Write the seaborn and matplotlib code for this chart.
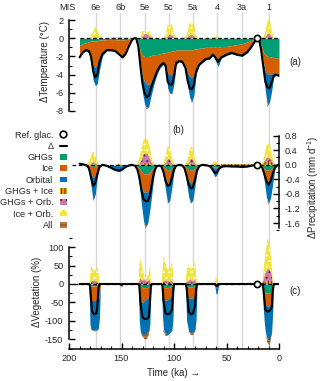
import numpy as np
import matplotlib
matplotlib.use("Agg")
import matplotlib.pyplot as plt
import seaborn as sns
from matplotlib.lines import Line2D
from matplotlib.patches import Patch
from matplotlib.ticker import MultipleLocator, FormatStrFormatter
from matplotlib.transforms import blended_transform_factory

# ---------------------------------------------------------------- data
mis_labels = ["6e", "6b", "5e", "5c", "5a", "4", "3a", "1"]
mis_ages = [174.5, 151, 128, 105, 82, 59, 35, 10]
ref_glacial_age = 21.0
series_names = ["GHGs", "Ice", "Orbital", "GHGs + Ice", "GHGs + Orb.", "Ice + Orb.", "All"]

# panel (a): temperature (deg C)
time_a = [190, 187, 184, 181, 179, 177, 175, 173, 171, 168, 164, 160, 156, 152, 149,
          146, 143, 140, 138, 136, 134, 132, 130, 128, 126, 124, 122, 119, 116, 113,
          110, 108, 106, 104, 102, 100, 98, 95, 92, 89, 87, 85, 83, 81, 79,
          76, 73, 70, 66, 63, 60, 58, 55, 50, 45, 40, 35, 30, 26, 23,
          21, 19, 17, 15, 13, 11, 9, 7, 5, 3, 0]
temp_delta = [-2.1, -1.6, -1.3, -1.4, -2.0, -3.6, -4.3, -4.0, -2.6, -1.7, -1.3, -1.3, -1.4, -1.8, -2.1,
              -1.7, -0.9, -0.2, 0.0, 0.0, -0.9, -3.1, -5.0, -6.0, -6.5, -6.3, -5.5, -4.5, -3.6, -3.0,
              -2.7, -3.0, -4.8, -5.1, -5.1, -4.2, -2.7, -2.5, -2.6, -3.3, -4.7, -5.5, -5.6, -5.1, -3.7,
              -2.9, -2.6, -2.3, -2.2, -1.8, -2.2, -2.6, -2.1, -1.8, -1.6, -1.8, -1.9, -1.5, -0.9, -0.35,
              0.0, -0.1, -1.3, -3.1, -4.8, -5.4, -5.5, -4.8, -4.1, -4.0, -4.1]
temp_ghgs = [-0.8, -0.6, -0.5, -0.4, -0.3, -0.3, -0.3, -0.3, -0.2, -0.2, -0.15, -0.15, -0.15, -0.2, -0.2,
             -0.15, -0.1, -0.05, 0, 0, -0.5, -1.5, -1.9, -2.0, -2.0, -2.0, -1.9, -1.8, -1.8, -1.7,
             -1.6, -1.6, -1.5, -1.5, -1.4, -1.4, -1.3, -1.3, -1.3, -1.3, -1.3, -1.3, -1.3, -1.2, -1.2,
             -1.1, -1.1, -1.0, -1.0, -0.9, -1.0, -1.0, -0.9, -0.9, -0.8, -0.7, -0.6, -0.4, -0.2, -0.1,
             0, -0.1, -0.7, -1.5, -1.8, -2.0, -2.0, -2.1, -2.1, -2.2, -2.2]
temp_ice = [-1.3, -0.9, -0.8, -1.0, -1.6, -2.7, -2.9, -2.7, -1.9, -1.4, -1.15, -1.15, -1.25, -1.6, -1.9,
            -1.55, -0.8, -0.15, 0, 0, -0.5, -1.3, -2.3, -2.8, -3.1, -3.1, -2.9, -2.4, -1.7, -1.3,
            -1.1, -1.3, -2.3, -2.5, -2.6, -2.2, -1.3, -1.1, -1.2, -1.7, -2.5, -2.9, -3.0, -2.8, -2.2,
            -1.7, -1.4, -1.2, -1.1, -0.8, -1.0, -1.3, -1.1, -0.8, -0.7, -1.0, -1.2, -1.0, -0.65, -0.2,
            0, 0, -0.5, -1.1, -1.8, -1.9, -2.0, -1.8, -1.8, -1.7, -1.8]
temp_orb = [-0.1, -0.1, -0.1, -0.2, -0.9, -1.6, -2.0, -2.0, -1.4, -0.3, -0.1, -0.1, -0.1, -0.1, -0.1,
            -0.1, -0.05, 0, 0, 0, -0.1, -1.0, -1.8, -2.4, -2.6, -2.4, -1.6, -0.8, -0.4, -0.2,
            -0.2, -0.4, -1.7, -2.0, -2.1, -1.4, -0.3, -0.2, -0.2, -0.6, -1.5, -2.3, -2.7, -2.2, -0.6,
            -0.2, -0.2, -0.2, -0.2, -0.2, -0.6, -0.8, -0.2, -0.2, -0.2, -0.2, -0.2, -0.2, -0.1, -0.05,
            0, -0.05, -0.3, -0.9, -2.2, -3.5, -3.0, -1.9, -0.4, -0.2, -0.2]
temp_ghgs_ice = {128: 0.05, 126: 0.05, 104: 0.05, 83: 0.05, 11: 0.05, 9: 0.05}
temp_ghgs_orb = {175: 0.1, 130: 0.2, 128: 0.4, 126: 0.45, 124: 0.3, 122: 0.1, 106: 0.2, 104: 0.4,
                 102: 0.3, 100: 0.1, 87: 0.1, 85: 0.3, 83: 0.4, 81: 0.2, 13: 0.1, 11: 0.4, 9: 0.5, 7: 0.2}
temp_ice_orb = {179: 0.2, 177: 0.7, 175: 1.2, 173: 0.9, 171: 0.3, 160: 0.1, 156: 0.15, 152: 0.15,
                149: 0.1, 132: 0.1, 130: 0.6, 128: 0.3, 126: 0.1, 124: 0.5, 122: 0.3, 108: 0.3,
                106: 1.4, 104: 0.7, 102: 1.4, 100: 0.4, 89: 0.2, 87: 0.6, 85: 1.5, 83: 0.9, 81: 1.6,
                79: 0.3, 60: 0.25, 58: 0.15, 15: 0.1, 13: 0.6, 11: 1.5, 9: 1.6, 7: 0.8, 5: 0.1}
temp_all = {126: -0.1, 104: -0.1, 83: -0.1, 11: -0.15}

# panel (b): precipitation (mm/d)
time_b = [190, 186, 183, 181, 179, 177, 175, 173, 171, 168, 164, 160, 156, 152, 149, 146, 143, 140,
          137, 135, 133, 131, 129, 127, 125, 123, 121, 119, 117, 114, 112, 110, 108, 106, 104, 102,
          100, 98, 95, 92, 90, 88, 86, 84, 82, 80, 78, 76, 73, 68, 65, 63, 61, 59, 57, 54, 50, 45,
          40, 35, 30, 25, 21, 18, 16, 14, 12, 10, 8, 6, 4, 2, 0]
prec_delta = {190: 0.03, 186: 0.01, 183: -0.02, 181: -0.1, 179: -0.35, 177: -0.58, 175: -0.5,
              173: -0.25, 171: -0.06, 164: -0.03, 160: -0.08, 156: -0.14, 152: -0.16, 149: -0.12,
              146: -0.06, 143: -0.02, 137: -0.03, 135: -0.12, 133: -0.35, 131: -0.7, 129: -0.95,
              127: -1.0, 125: -1.0, 123: -0.85, 121: -0.5, 119: -0.2, 117: -0.05, 114: -0.02,
              112: -0.05, 110: -0.2, 108: -0.45, 106: -0.58, 104: -0.55, 102: -0.35, 100: -0.12,
              98: -0.03, 92: -0.02, 90: -0.1, 88: -0.3, 86: -0.55, 84: -0.65, 82: -0.62, 80: -0.4,
              78: -0.15, 76: -0.04, 68: -0.02, 65: -0.06, 63: -0.15, 61: -0.23, 59: -0.2, 57: -0.1,
              54: -0.05, 50: -0.04, 45: -0.05, 40: -0.05, 35: -0.06, 30: -0.05, 25: -0.02, 18: -0.02,
              16: -0.08, 14: -0.25, 12: -0.45, 10: -0.55, 8: -0.45, 6: -0.25, 4: -0.08, 2: -0.02}
prec_ghgs = {181: -0.01, 179: -0.03, 177: -0.05, 175: -0.04, 173: -0.02, 135: -0.03, 133: -0.1,
             131: -0.18, 129: -0.25, 127: -0.25, 125: -0.25, 123: -0.2, 121: -0.12, 119: -0.05,
             117: -0.01, 112: -0.01, 110: -0.05, 108: -0.1, 106: -0.15, 104: -0.15, 102: -0.1,
             100: -0.04, 90: -0.02, 88: -0.07, 86: -0.13, 84: -0.15, 82: -0.14, 80: -0.08, 78: -0.03,
             63: -0.03, 61: -0.07, 59: -0.06, 57: -0.02, 16: -0.03, 14: -0.1, 12: -0.15, 10: -0.15,
             8: -0.13, 6: -0.08, 4: -0.02}
prec_ice = {181: -0.05, 179: -0.2, 177: -0.3, 175: -0.27, 173: -0.12, 171: -0.02, 160: -0.01,
            156: -0.02, 152: -0.03, 149: -0.02, 135: -0.05, 133: -0.2, 131: -0.4, 129: -0.5,
            127: -0.5, 125: -0.5, 123: -0.45, 121: -0.3, 119: -0.1, 117: -0.02, 112: -0.02,
            110: -0.12, 108: -0.25, 106: -0.35, 104: -0.33, 102: -0.22, 100: -0.07, 90: -0.05,
            88: -0.18, 86: -0.3, 84: -0.35, 82: -0.33, 80: -0.2, 78: -0.07, 63: -0.02, 61: -0.04,
            59: -0.03, 16: -0.03, 14: -0.15, 12: -0.28, 10: -0.3, 8: -0.28, 6: -0.15, 4: -0.03}
prec_orb = {186: -0.01, 183: -0.03, 181: -0.1, 179: -0.35, 177: -0.62, 175: -0.5, 173: -0.2,
            171: -0.05, 168: -0.01, 164: -0.04, 160: -0.1, 156: -0.14, 152: -0.16, 149: -0.12,
            146: -0.06, 143: -0.02, 137: -0.03, 135: -0.1, 133: -0.25, 131: -0.5, 129: -0.8,
            127: -0.95, 125: -0.85, 123: -0.6, 121: -0.35, 119: -0.15, 117: -0.04, 114: -0.02,
            112: -0.04, 110: -0.15, 108: -0.35, 106: -0.55, 104: -0.5, 102: -0.3, 100: -0.1,
            98: -0.02, 92: -0.02, 90: -0.08, 88: -0.25, 86: -0.45, 84: -0.55, 82: -0.5, 80: -0.3,
            78: -0.1, 76: -0.03, 68: -0.02, 65: -0.06, 63: -0.15, 61: -0.22, 59: -0.18, 57: -0.1,
            54: -0.05, 50: -0.04, 45: -0.05, 40: -0.05, 35: -0.06, 30: -0.05, 25: -0.02, 18: -0.02,
            16: -0.06, 14: -0.2, 12: -0.45, 10: -0.6, 8: -0.5, 6: -0.3, 4: -0.08, 2: -0.02}
prec_ghgs_ice = {179: 0.01, 177: 0.02, 175: 0.01, 152: 0.02, 129: 0.04, 127: 0.05, 125: 0.05,
                 123: 0.03, 106: 0.04, 104: 0.03, 84: 0.04, 82: 0.03, 61: 0.03, 54: 0.02, 50: 0.02,
                 45: 0.02, 40: 0.02, 35: 0.02, 30: 0.02, 25: 0.01, 16: 0.02, 14: 0.06, 12: 0.1,
                 10: 0.1, 8: 0.09, 6: 0.05, 4: 0.01}
prec_ghgs_orb = {179: 0.02, 177: 0.06, 175: 0.04, 133: 0.03, 131: 0.12, 129: 0.25, 127: 0.27,
                 125: 0.25, 123: 0.15, 121: 0.05, 108: 0.05, 106: 0.12, 104: 0.12, 102: 0.05,
                 86: 0.05, 84: 0.13, 82: 0.12, 80: 0.04, 14: 0.03, 12: 0.08, 10: 0.1, 8: 0.08, 6: 0.03}
prec_ice_orb = {183: 0.02, 181: 0.08, 179: 0.2, 177: 0.3, 175: 0.2, 173: 0.06, 152: 0.02, 135: 0.03,
                133: 0.15, 131: 0.3, 129: 0.4, 127: 0.43, 125: 0.4, 123: 0.3, 121: 0.12, 119: 0.03,
                110: 0.05, 108: 0.2, 106: 0.35, 104: 0.33, 102: 0.15, 100: 0.03, 88: 0.08, 86: 0.25,
                84: 0.33, 82: 0.3, 80: 0.12, 78: 0.02, 63: 0.03, 61: 0.08, 59: 0.05, 16: 0.03,
                14: 0.15, 12: 0.35, 10: 0.4, 8: 0.3, 6: 0.1}
prec_all = {177: -0.03, 127: -0.05, 125: -0.03, 106: -0.03, 84: -0.03, 10: -0.05}

# panel (c): vegetation (%)
time_c = [190, 182, 181, 180, 179, 178, 176, 174, 173, 172, 171, 170, 152, 151, 150, 149, 148,
          135, 134, 133, 132, 130, 128, 126, 124, 123, 122, 121, 113, 112, 111, 110, 108, 106,
          104, 102, 101, 100, 99, 90, 89, 88, 86, 84, 82, 80, 79, 78, 77, 63, 62, 61, 60, 59,
          58, 57, 56, 17, 16, 15, 14, 13, 11, 9, 7, 6, 5, 4, 0]
veg_delta = {180: -5, 179: -40, 178: -75, 176: -82, 174: -80, 173: -60, 172: -12, 150: -3,
             133: -5, 132: -50, 130: -90, 128: -95, 126: -95, 124: -90, 123: -55, 122: -5,
             111: -5, 110: -45, 108: -80, 106: -82, 104: -80, 102: -70, 101: -25,
             88: -10, 86: -75, 84: -82, 82: -80, 80: -60, 79: -15, 60: -5, 59: -6,
             15: -10, 14: -40, 13: -70, 11: -75, 9: -73, 7: -65, 6: -20}
veg_ghgs = {180: -3, 179: -5, 178: -5, 176: -5, 174: -5, 173: -5, 172: -3, 171: -2, 150: -1,
            133: -3, 132: -5, 130: -10, 128: -10, 126: -10, 124: -8, 123: -5,
            111: -5, 110: -8, 108: -10, 106: -10, 104: -8, 102: -5, 101: -3,
            88: -5, 86: -8, 84: -8, 82: -8, 80: -5, 79: -3, 60: -3, 59: -3,
            15: -10, 14: -20, 13: -25, 11: -25, 9: -25, 7: -20, 6: -10}
veg_ice = {180: -35, 179: -40, 178: -40, 176: -40, 174: -40, 173: -40, 172: -38, 171: -30, 150: -2,
           133: -30, 132: -40, 130: -40, 128: -35, 126: -30, 124: -28, 123: -25,
           111: -20, 110: -30, 108: -35, 106: -32, 104: -30, 102: -28, 101: -20,
           88: -25, 86: -30, 84: -30, 82: -30, 80: -28, 79: -20, 61: -2, 60: -8, 59: -6, 58: -2,
           15: -15, 14: -25, 13: -30, 11: -35, 9: -35, 7: -30, 6: -15}
veg_orb = {180: -70, 179: -78, 178: -80, 176: -80, 174: -80, 173: -80, 172: -78, 171: -60, 150: -6,
           133: -70, 132: -85, 130: -88, 128: -92, 126: -95, 124: -92, 123: -80,
           111: -60, 110: -85, 108: -92, 106: -95, 104: -95, 102: -92, 101: -75,
           88: -70, 86: -90, 84: -95, 82: -95, 80: -92, 79: -75,
           61: -5, 60: -15, 59: -18, 58: -8, 57: -2,
           15: -40, 14: -60, 13: -75, 11: -90, 9: -95, 7: -80, 6: -50}
veg_ghgs_ice = {176: 2, 128: 3, 106: 3, 84: 3, 13: 5, 11: 10, 9: 10, 7: 8, 6: 3}
veg_ghgs_orb = {179: 5, 178: 8, 176: 8, 174: 8, 173: 5, 133: 10, 132: 15, 130: 10, 128: 8, 126: 8,
                124: 10, 123: 12, 110: 8, 108: 10, 106: 6, 104: 6, 102: 10, 101: 5,
                88: 5, 86: 10, 84: 8, 82: 8, 80: 12, 79: 5, 60: 3,
                15: 10, 14: 20, 13: 25, 11: 30, 9: 30, 7: 20, 6: 5}
veg_ice_orb = {180: 15, 179: 45, 178: 35, 176: 25, 174: 30, 173: 42, 172: 30, 171: 10, 150: 5,
               133: 45, 132: 55, 130: 30, 128: 10, 126: 5, 124: 20, 123: 45, 122: 10,
               111: 30, 110: 70, 108: 45, 106: 30, 104: 35, 102: 50, 101: 30,
               88: 30, 86: 45, 84: 30, 82: 35, 80: 48, 79: 20, 61: 5, 60: 18, 59: 12, 58: 3,
               15: 20, 14: 40, 13: 50, 11: 85, 9: 65, 7: 30, 6: 10}
veg_all = {179: -2, 176: -3, 174: -3, 130: -5, 128: -12, 126: -15, 124: -10, 110: -5, 108: -4,
           106: -3, 84: -5, 82: -6, 80: -3, 11: -10, 9: -12, 7: -5}

zero_line_start = {"a": 190, "b": 197, "c": 195}

# ---------------------------------------------------------------- style
layer_styles = {
    "GHGs": dict(facecolor="#009e73", edgecolor="#009e73", hatch=None),
    "Ice": dict(facecolor="#d55e00", edgecolor="#d55e00", hatch=None),
    "Orbital": dict(facecolor="#0072b2", edgecolor="#0072b2", hatch=None),
    "GHGs + Ice": dict(facecolor="#e69f00", edgecolor="#2a1a00", hatch="|||||"),
    "GHGs + Orb.": dict(facecolor="#cc79a7", edgecolor="#5a1a4a", hatch="..."),
    "Ice + Orb.": dict(facecolor="#f0e442", edgecolor="white", hatch="..."),
    "All": dict(facecolor="#c07a40", edgecolor="#6b3a1a", hatch="-----"),
}

sns.set_theme(style="ticks")
plt.rcParams["font.family"] = ["Liberation Sans", "DejaVu Sans"]
plt.rcParams["axes.unicode_minus"] = False
plt.rcParams["hatch.linewidth"] = 0.6
plt.rcParams["mathtext.fontset"] = "custom"
plt.rcParams["mathtext.rm"] = "Liberation Sans"
plt.rcParams["mathtext.it"] = "Liberation Sans:italic"

FS = 6.6
W_PX, H_PX = 320, 381


def fx(px):
    return px / W_PX


def fy(py):
    return 1 - py / H_PX


def on_grid(grid, sparse):
    return np.array([sparse.get(t, 0.0) for t in grid], dtype=float)


def draw_panel(ax, t, layers, delta, zstart):
    t = np.asarray(t, dtype=float)
    pos = np.zeros_like(t)
    neg = np.zeros_like(t)
    for name, vals in zip(series_names, layers):
        v = np.asarray(vals, dtype=float)
        p = np.clip(v, 0, None)
        n = np.clip(v, None, 0)
        st = layer_styles[name]
        if np.any(p != 0):
            ax.fill_between(t, pos, pos + p, linewidth=0, zorder=2, **st)
        if np.any(n != 0):
            ax.fill_between(t, neg, neg + n, linewidth=0, zorder=2, **st)
        pos = pos + p
        neg = neg + n
    ax.hlines(0, zstart, 0, colors="black", linestyles=(0, (3, 2)), linewidth=0.9, zorder=3)
    sns.lineplot(x=t, y=np.asarray(delta, dtype=float), ax=ax, color="black", linewidth=1.5,
                 sort=False, estimator=None, legend=False, zorder=4)
    sns.scatterplot(x=[ref_glacial_age], y=[0.0], ax=ax, s=20, color="white", edgecolor="black",
                    linewidth=1.2, zorder=6, legend=False)


fig = plt.figure(figsize=(3.2, 3.81), dpi=100)
L = fx(69)
WID = fx(279) - fx(69)

# background axes with MIS lines
ax_bg = fig.add_axes([L, fy(349), WID, fy(13) - fy(349)])
ax_bg.set_xlim(200, 0)
ax_bg.axis("off")
for age in mis_ages:
    ax_bg.axvline(age, color="#d6d6d6", linewidth=1.0, zorder=0)
trans = blended_transform_factory(ax_bg.transData, fig.transFigure)
ax_bg.text(202, fy(7.5), "MIS", transform=trans, ha="center", va="center", fontsize=FS)
for age, lab in zip(mis_ages, mis_labels):
    ax_bg.text(age, fy(7.5), lab, transform=trans, ha="center", va="center", fontsize=FS)

ax_a = fig.add_axes([L, fy(111), WID, fy(14.6) - fy(111)], facecolor="none")
ax_b = fig.add_axes([L, fy(230.3), WID, fy(132) - fy(230.3)], facecolor="none")
ax_c = fig.add_axes([L, fy(348.9), WID, fy(234.2) - fy(348.9)], facecolor="none")

draw_panel(ax_a, time_a,
           [temp_ghgs, temp_ice, temp_orb, on_grid(time_a, temp_ghgs_ice),
            on_grid(time_a, temp_ghgs_orb), on_grid(time_a, temp_ice_orb), on_grid(time_a, temp_all)],
           temp_delta, zero_line_start["a"])
draw_panel(ax_b, time_b,
           [on_grid(time_b, d) for d in (prec_ghgs, prec_ice, prec_orb, prec_ghgs_ice,
                                         prec_ghgs_orb, prec_ice_orb, prec_all)],
           on_grid(time_b, prec_delta), zero_line_start["b"])
draw_panel(ax_c, time_c,
           [on_grid(time_c, d) for d in (veg_ghgs, veg_ice, veg_orb, veg_ghgs_ice,
                                         veg_ghgs_orb, veg_ice_orb, veg_all)],
           on_grid(time_c, veg_delta), zero_line_start["c"])

for ax in (ax_a, ax_b, ax_c):
    ax.set_xlim(200, 0)
    ax.set_xlabel("")
    ax.set_ylabel("")
    for s in ax.spines.values():
        s.set_linewidth(1.1)
        s.set_color("black")

# panel a axes
ax_a.set_ylim(-8, 2.6)
for s in ("top", "right", "bottom"):
    ax_a.spines[s].set_visible(False)
ax_a.spines["left"].set_bounds(-8, 2)
ax_a.set_xticks([])
ax_a.yaxis.set_major_locator(MultipleLocator(2))
ax_a.yaxis.set_minor_locator(MultipleLocator(1))
ax_a.set_yticks([2, 0, -2, -4, -6, -8])

# panel b axes
ax_b.set_ylim(-1.8, 0.9)
for s in ("top", "left", "bottom"):
    ax_b.spines[s].set_visible(False)
ax_b.spines["right"].set_bounds(-1.75, 0.8)
ax_b.set_xticks([])
ax_b.yaxis.tick_right()
ax_b.set_yticks([0.8, 0.4, 0.0, -0.4, -0.8, -1.2, -1.6])
ax_b.yaxis.set_minor_locator(MultipleLocator(0.2))
ax_b.yaxis.set_major_formatter(FormatStrFormatter("%.1f"))

# panel c axes
ax_c.set_ylim(-176, 135)
for s in ("top", "right"):
    ax_c.spines[s].set_visible(False)
ax_c.spines["left"].set_bounds(-150, 100)
ax_c.set_yticks([100, 50, 0, -50, -100, -150])
ax_c.yaxis.set_minor_locator(MultipleLocator(25))
ax_c.set_xticks([200, 150, 100, 50, 0])
ax_c.xaxis.set_minor_locator(MultipleLocator(10))
ax_c.set_xlabel("Time (ka) \u2192", fontsize=FS + 0.4, labelpad=3)

for ax in (ax_a, ax_b, ax_c):
    ax.tick_params(which="major", direction="in", length=4, width=1.0, labelsize=FS, pad=4,
                   color="black")
    ax.tick_params(which="minor", direction="in", length=2, width=0.8, color="black")
ax_b.tick_params(which="both", left=False, right=True)
ax_a.tick_params(which="minor", bottom=False)
ax_b.tick_params(which="minor", bottom=False)

# labels
fig.text(fx(45), fy(61), "\u0394Temperature (\u00b0C)", rotation=90, ha="center", va="center",
         fontsize=FS + 0.4)
fig.text(fx(313), fy(187), "\u0394Precipitation (mm d$^{-1}$)", rotation=90, ha="center",
         va="center", fontsize=FS + 0.4)
fig.text(fx(37), fy(292), "\u0394Vegetation (%)", rotation=90, ha="center", va="center",
         fontsize=FS + 0.4)
fig.text(fx(295), fy(62), "(a)", ha="center", va="center", fontsize=FS + 0.4)
fig.text(fx(178), fy(130), "(b)", ha="center", va="center", fontsize=FS + 0.4)
fig.text(fx(295), fy(291), "(c)", ha="center", va="center", fontsize=FS + 0.4)

# legend
handles = [Line2D([], [], marker="o", ls="none", markerfacecolor="white", markeredgecolor="black",
                  markersize=4.8, markeredgewidth=1.2),
           Line2D([], [], color="black", lw=1.5)]
handles += [Patch(linewidth=0, **layer_styles[n]) for n in series_names]
labels = ["Ref. glac.", "\u0394"] + series_names
fig.legend(handles, labels, loc="upper right", bbox_to_anchor=(fx(67), fy(130.5)), frameon=False,
           markerfirst=False, fontsize=FS, handlelength=0.8, handleheight=0.6, handletextpad=0.7,
           labelspacing=0.25, borderpad=0, borderaxespad=0)

fig.savefig("out.png", dpi=100)
